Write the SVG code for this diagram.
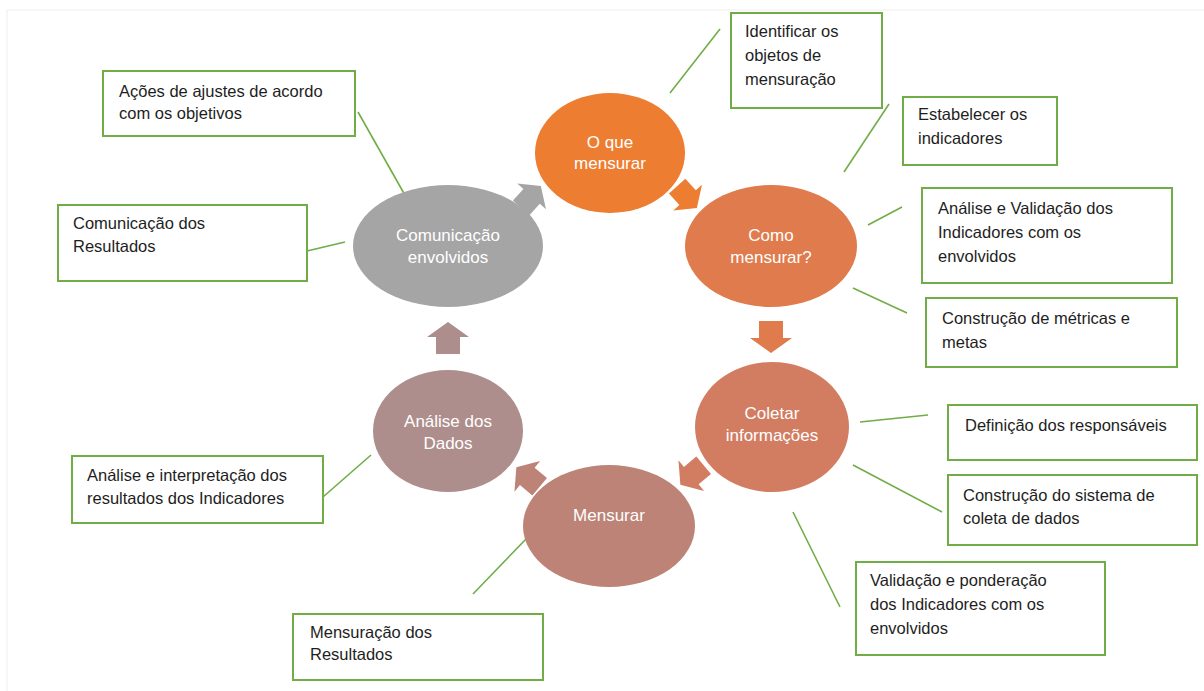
<svg xmlns="http://www.w3.org/2000/svg" width="1204" height="691" viewBox="0 0 1204 691">
<defs>
<style>
.box{fill:#fff;stroke:#70AD47;stroke-width:2}
.lead{stroke:#70AD47;stroke-width:1.6;fill:none}
.bt{font-family:"Liberation Sans",Arial,sans-serif;font-size:16.5px;fill:#1e1e1e}
.et{font-family:"Liberation Sans",Arial,sans-serif;font-size:17px;fill:#fff;text-anchor:middle}
</style>
<path id="arr" d="M-16,-12 H1 V-21 L16,0 L1,21 V12 H-16 Z"/>
</defs>
<rect width="1204" height="691" fill="#fff"/>
<path d="M7,691 V10 H1204" fill="none" stroke="#EEEEEE" stroke-width="1"/>
<g id="connectors">
<use href="#arr" transform="translate(531,197) rotate(-48) scale(0.92)" fill="#A5A5A5"/>
<use href="#arr" transform="translate(687,197) rotate(48) scale(0.92)" fill="#ED7D31"/>
<use href="#arr" transform="translate(771,337) rotate(90)" fill="#DF7B4C"/>
<use href="#arr" transform="translate(692,475) rotate(140) scale(0.95)" fill="#D27C62"/>
<use href="#arr" transform="translate(528,477) rotate(220) scale(0.95)" fill="#BC8376"/>
<use href="#arr" transform="translate(448,338) rotate(-90)" fill="#AE8E8C"/>
<line class="lead" x1="670" y1="93" x2="720" y2="29"/>
<line class="lead" x1="844" y1="172" x2="889" y2="104"/>
<line class="lead" x1="868" y1="225" x2="902" y2="207"/>
<line class="lead" x1="853" y1="288" x2="907" y2="313"/>
<line class="lead" x1="860" y1="422" x2="928" y2="415"/>
<line class="lead" x1="853" y1="465" x2="942" y2="512"/>
<line class="lead" x1="793" y1="512" x2="840" y2="607"/>
<line class="lead" x1="473" y1="594" x2="527" y2="538"/>
<line class="lead" x1="323" y1="497" x2="371" y2="455"/>
<line class="lead" x1="307" y1="251" x2="345" y2="242"/>
<line class="lead" x1="358" y1="112" x2="406" y2="197"/>
</g>
<g id="n-oque"><ellipse cx="610" cy="153" rx="75" ry="60" fill="#ED7D31"/><text class="et" x="610" y="148">O que</text><text class="et" x="610" y="169">mensurar</text></g>
<g id="n-como"><ellipse cx="771" cy="246" rx="86" ry="61" fill="#DF7B4C"/><text class="et" x="771" y="241">Como</text><text class="et" x="771" y="263">mensurar?</text></g>
<g id="n-coletar"><ellipse cx="772" cy="427" rx="77" ry="65" fill="#D27C62"/><text class="et" x="772" y="419">Coletar</text><text class="et" x="772" y="441">informações</text></g>
<g id="n-mensurar"><ellipse cx="609" cy="526" rx="86" ry="61" fill="#BC8376"/><text class="et" x="609" y="521">Mensurar</text></g>
<g id="n-analise"><ellipse cx="448" cy="431" rx="75" ry="61" fill="#AE8E8C"/><text class="et" x="448" y="427">Análise dos</text><text class="et" x="448" y="449">Dados</text></g>
<g id="n-comunicacao"><ellipse cx="448" cy="246" rx="95" ry="61" fill="#A5A5A5"/><text class="et" x="448" y="241">Comunicação</text><text class="et" x="448" y="263">envolvidos</text></g>
<g id="b-identificar"><rect class="box" x="731" y="13" width="151" height="95"/><text class="bt" x="745" y="37">Identificar os</text><text class="bt" x="745" y="61">objetos de</text><text class="bt" x="745" y="85">mensuração</text></g>
<g id="b-estabelecer"><rect class="box" x="903" y="97" width="154" height="68"/><text class="bt" x="918" y="120">Estabelecer os</text><text class="bt" x="918" y="144">indicadores</text></g>
<g id="b-validacao-ind"><rect class="box" x="922" y="188" width="250" height="95"/><text class="bt" x="938" y="214">Análise e Validação dos</text><text class="bt" x="938" y="238">Indicadores com os</text><text class="bt" x="938" y="262">envolvidos</text></g>
<g id="b-metricas"><rect class="box" x="926" y="298" width="251" height="69"/><text class="bt" x="942" y="324">Construção de métricas e</text><text class="bt" x="942" y="348">metas</text></g>
<g id="b-responsaveis"><rect class="box" x="948" y="405" width="249" height="55"/><text class="bt" x="965" y="431">Definição dos responsáveis</text></g>
<g id="b-sistema"><rect class="box" x="948" y="475" width="249" height="70"/><text class="bt" x="963" y="501">Construção do sistema de</text><text class="bt" x="963" y="524">coleta de dados</text></g>
<g id="b-ponderacao"><rect class="box" x="856" y="562" width="249" height="93"/><text class="bt" x="870" y="586">Validação e ponderação</text><text class="bt" x="870" y="610">dos Indicadores com os</text><text class="bt" x="870" y="634">envolvidos</text></g>
<g id="b-mensuracao"><rect class="box" x="293" y="614" width="250" height="66"/><text class="bt" x="310" y="638">Mensuração dos</text><text class="bt" x="310" y="660">Resultados</text></g>
<g id="b-interpretacao"><rect class="box" x="72" y="456" width="251" height="67"/><text class="bt" x="87" y="481">Análise e interpretação dos</text><text class="bt" x="87" y="504">resultados dos Indicadores</text></g>
<g id="b-comunicacao"><rect class="box" x="58" y="205" width="249" height="76"/><text class="bt" x="73" y="229">Comunicação dos</text><text class="bt" x="73" y="252">Resultados</text></g>
<g id="b-acoes"><rect class="box" x="103" y="71" width="252" height="65"/><text class="bt" x="119" y="97">Ações de ajustes de acordo</text><text class="bt" x="119" y="119">com os objetivos</text></g>
</svg>
